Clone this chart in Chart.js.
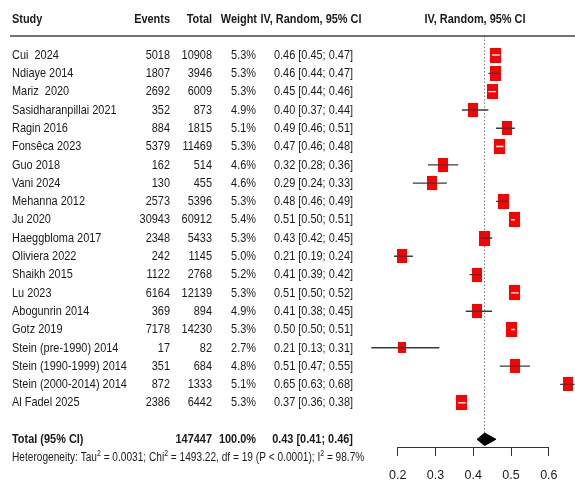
<!DOCTYPE html>
<html>
<head>
<meta charset="utf-8">
<script src="https://cdn.jsdelivr.net/npm/chart.js@4"></script>
<style>
  html, body { margin: 0; padding: 0; background: #fff; }
  #wrap { width: 575px; height: 484px; position: relative; }
</style>
</head>
<body>
<div id="wrap"><canvas id="forest"></canvas></div>
<script>
// data
const studies = ["Cui  2024", "Ndiaye 2014", "Mariz  2020", "Sasidharanpillai 2021", "Ragin 2016",
  "Fonsêca 2023", "Guo 2018", "Vani 2024", "Mehanna 2012", "Ju 2020", "Haeggbloma 2017",
  "Oliviera 2022", "Shaikh 2015", "Lu 2023", "Abogunrin 2014", "Gotz 2019",
  "Stein (pre-1990) 2014", "Stein (1990-1999) 2014", "Stein (2000-2014) 2014", "Al Fadel 2025"];
const events = [5018, 1807, 2692, 352, 884, 5379, 162, 130, 2573, 30943, 2348, 242, 1122, 6164, 369, 7178, 17, 351, 872, 2386];
const totals = [10908, 3946, 6009, 873, 1815, 11469, 514, 455, 5396, 60912, 5433, 1145, 2768, 12139, 894, 14230, 82, 684, 1333, 6442];
const weights = [5.3, 5.3, 5.3, 4.9, 5.1, 5.3, 4.6, 4.6, 5.3, 5.4, 5.3, 5.0, 5.2, 5.3, 4.9, 5.3, 2.7, 4.8, 5.1, 5.3];
const est = [0.46, 0.46, 0.45, 0.40, 0.49, 0.47, 0.32, 0.29, 0.48, 0.51, 0.43, 0.21, 0.41, 0.51, 0.41, 0.50, 0.21, 0.51, 0.65, 0.37];
const lower = [0.45, 0.44, 0.44, 0.37, 0.46, 0.46, 0.28, 0.24, 0.46, 0.50, 0.42, 0.19, 0.39, 0.50, 0.38, 0.50, 0.13, 0.47, 0.63, 0.36];
const upper = [0.47, 0.47, 0.46, 0.44, 0.51, 0.48, 0.36, 0.33, 0.49, 0.51, 0.45, 0.24, 0.42, 0.52, 0.45, 0.51, 0.31, 0.55, 0.68, 0.38];
const pooled = [0.43, 0.41, 0.46]; // estimate, lower, upper
const totalN = 147447;
const totalWeight = "100.0%";
const hetero = ["Heterogeneity: Tau", "2", " = 0.0031; Chi", "2", " = 1493.22, df = 19 (P < 0.0001); I", "2", " = 98.7%"];
const tickValues = [0.2, 0.3, 0.4, 0.5, 0.6];

const FONT = "'Liberation Sans', Arial, sans-serif";
const TEXT = "#1a1a1a";

// red boxes, area ~ weight
const markers = weights.map(w => {
  const c = document.createElement("canvas");
  c.width = Math.round(4.6 * Math.sqrt(w));
  c.height = Math.round(c.width * 1.4);
  const g = c.getContext("2d");
  g.fillStyle = "#f00";
  g.fillRect(0, 0, c.width, c.height);
  return c;
});

// CI segments, broken by empty points
const ciPoints = [];
est.forEach((v, i) => {
  ciPoints.push({ x: lower[i], y: i }, { x: upper[i], y: i }, { x: null, y: null });
});

const sumRow = studies.length + 1;

function txt(ctx, s, x, y, align, font, sx) {
  ctx.save();
  ctx.font = font;
  ctx.textAlign = align;
  ctx.textBaseline = "middle";
  ctx.translate(x, y);
  ctx.scale(sx, 1);
  ctx.fillText(s, 0, 0);
  ctx.restore();
}

const tablePlugin = {
  id: "table",
  afterDraw(chart) {
    const { ctx, chartArea, scales: { x, y } } = chart;
    const sx = 0.81;
    const reg = "13.5px " + FONT;
    const bold = "bold 13.5px " + FONT;
    ctx.save();
    ctx.fillStyle = TEXT;

    // header
    const hy = y.getPixelForValue(-1.95);
    txt(ctx, "Study", 12, hy, "left", bold, sx);
    txt(ctx, "Events", 170, hy, "right", bold, sx);
    txt(ctx, "Total", 212, hy, "right", bold, sx);
    txt(ctx, "Weight", 257, hy, "right", bold, sx);
    txt(ctx, "IV, Random, 95% CI", 311, hy, "center", bold, sx);
    txt(ctx, "IV, Random, 95% CI", 475, hy, "center", bold, sx);

    ctx.strokeStyle = "#444";
    ctx.lineWidth = 1.3;
    ctx.beginPath();
    ctx.moveTo(10, chartArea.top);
    ctx.lineTo(575, chartArea.top);
    ctx.stroke();

    // study rows
    studies.forEach((s, i) => {
      const py = y.getPixelForValue(i);
      txt(ctx, s, 12, py, "left", reg, sx);
      txt(ctx, String(events[i]), 170, py, "right", reg, sx);
      txt(ctx, String(totals[i]), 212, py, "right", reg, sx);
      txt(ctx, weights[i].toFixed(1) + "%", 256, py, "right", reg, sx);
      txt(ctx, est[i].toFixed(2) + " [" + lower[i].toFixed(2) + "; " + upper[i].toFixed(2) + "]", 353, py, "right", reg, sx);
    });

    // total row
    const ty = y.getPixelForValue(sumRow);
    txt(ctx, "Total (95% CI)", 12, ty, "left", bold, sx);
    txt(ctx, String(totalN), 212, ty, "right", bold, sx);
    txt(ctx, totalWeight, 256, ty, "right", bold, sx);
    txt(ctx, pooled[0].toFixed(2) + " [" + pooled[1].toFixed(2) + "; " + pooled[2].toFixed(2) + "]", 353, ty, "right", bold, sx);

    // heterogeneity with superscripts
    const hy2 = y.getPixelForValue(sumRow + 1);
    let cx = 12;
    hetero.forEach((part, k) => {
      const sup = k % 2 === 1;
      const f = (sup ? "8.5px " : "12.5px ") + FONT;
      ctx.font = f;
      const w = ctx.measureText(part).width * sx;
      txt(ctx, part, cx, sup ? hy2 - 4 : hy2, "left", f, sx);
      cx += w;
    });

    // x axis line, only across the ticks
    ctx.strokeStyle = "#333";
    ctx.lineWidth = 1;
    ctx.beginPath();
    ctx.moveTo(x.getPixelForValue(tickValues[0]), chartArea.bottom + 0.5);
    ctx.lineTo(x.getPixelForValue(tickValues[tickValues.length - 1]), chartArea.bottom + 0.5);
    ctx.stroke();
    ctx.restore();
  }
};

const chart = new Chart(document.getElementById("forest"), {
  type: "scatter",
  data: {
    datasets: [
      {
        // confidence intervals
        type: "line",
        data: ciPoints,
        borderWidth: 1.4,
        borderColor: "#3a3a3a",
        spanGaps: false,
        segment: {
          borderColor: c => {
            const row = Math.floor(c.p0DataIndex / 3);
            return (c.p1.x - c.p0.x) <= markers[row].width ? "#fff" : "#3a3a3a";
          }
        },
        order: 0
      },
      {
        // study boxes
        data: est.map((v, i) => ({ x: v, y: i })),
        pointStyle: c => markers[c.dataIndex],
        pointRadius: 0.5,
        pointHoverRadius: 0.5,
        order: 1
      },
      {
        // reference line at pooled estimate
        type: "line",
        data: [{ x: pooled[0], y: -1.04 }, { x: pooled[0], y: sumRow - 0.34 }],
        borderColor: "#777",
        borderWidth: 1,
        borderDash: [1.5, 2],
        order: 2
      },
      {
        // pooled diamond
        type: "line",
        data: [
          { x: pooled[1], y: sumRow }, { x: pooled[0], y: sumRow - 0.34 },
          { x: pooled[2], y: sumRow }, { x: pooled[0], y: sumRow + 0.34 },
          { x: pooled[1], y: sumRow }
        ],
        borderColor: "#000",
        backgroundColor: "#000",
        borderWidth: 1,
        fill: "shape",
        order: 0
      }
    ]
  },
  options: {
    responsive: true,
    maintainAspectRatio: false,
    animation: false,
    events: [],
    elements: { point: { radius: 0, hoverRadius: 0, borderWidth: 0, hoverBorderWidth: 0 } },
    layout: { padding: { left: 360, right: 0, top: 36, bottom: 0 } },
    plugins: { legend: { display: false }, tooltip: { enabled: false } },
    scales: {
      x: {
        type: "linear",
        min: 0.1,
        max: 0.668,
        afterBuildTicks: s => { s.ticks = tickValues.map(v => ({ value: v })); },
        afterFit: s => {
          s.height = 37;
          s.paddingLeft = 0;
          s.paddingRight = 0;
        },
        ticks: {
          color: TEXT,
          padding: 12,
          font: { family: FONT, size: 12.5 },
          callback: v => v.toFixed(1)
        },
        grid: { drawOnChartArea: false, drawTicks: true, tickLength: 9, color: "#333" },
        border: { display: false }
      },
      y: {
        type: "linear",
        reverse: true,
        min: -1.04,
        max: 21.42,
        display: false
      }
    }
  },
  plugins: [tablePlugin]
});
</script>
</body>
</html>
